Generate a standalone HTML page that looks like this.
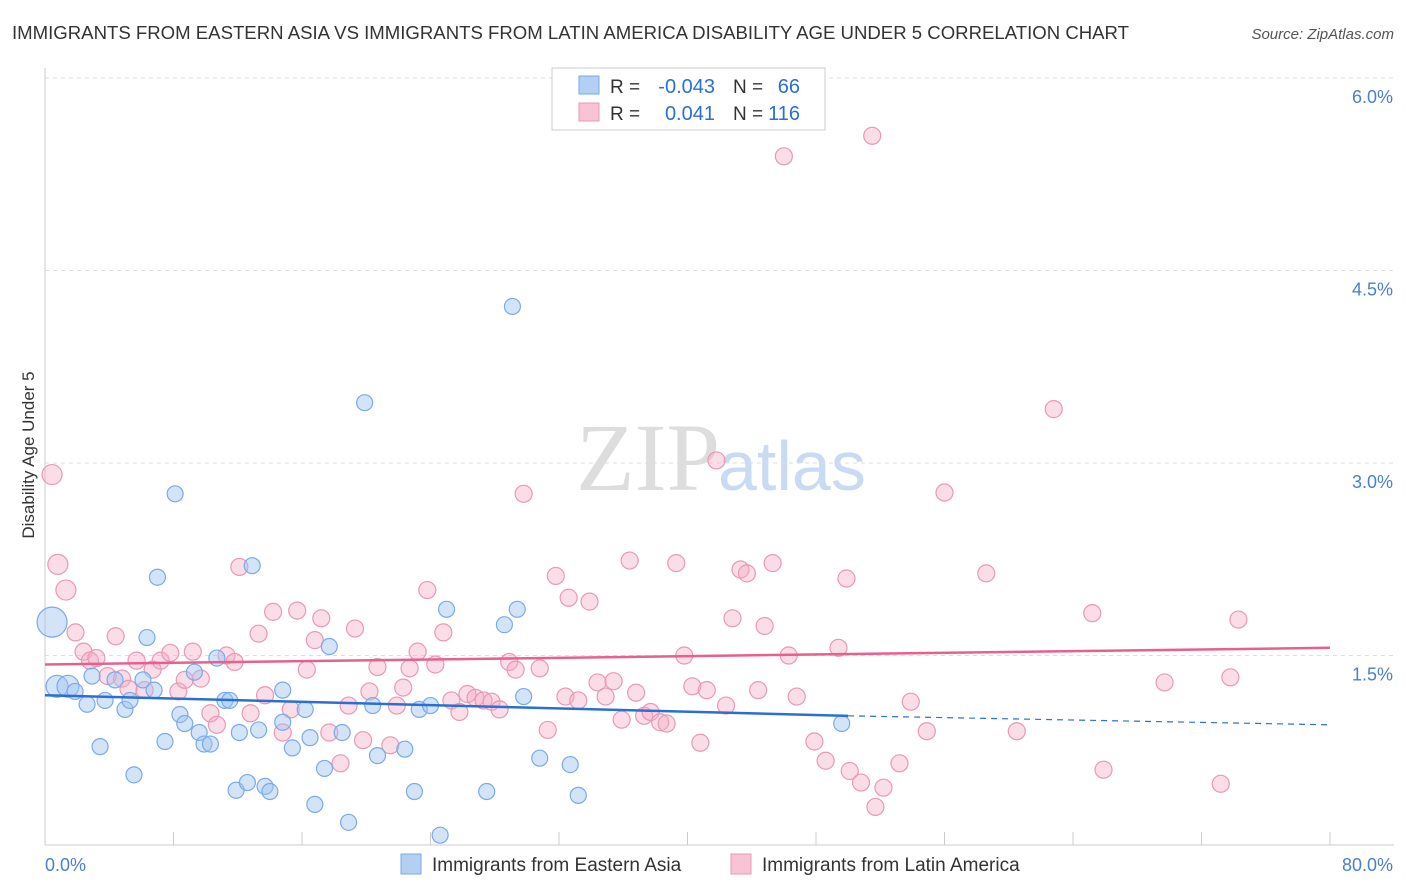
<!DOCTYPE html>
<html><head><meta charset="utf-8"><style>
body{margin:0;background:#fff;font-family:"Liberation Sans",sans-serif;}
svg{display:block}
</style></head><body>
<svg id="chart" width="1406" height="892">
<text x="12" y="39" font-size="18" fill="#333" textLength="1117" lengthAdjust="spacingAndGlyphs">IMMIGRANTS FROM EASTERN ASIA VS IMMIGRANTS FROM LATIN AMERICA DISABILITY AGE UNDER 5 CORRELATION CHART</text>
<text x="1394" y="39" font-size="15" fill="#555" font-style="italic" text-anchor="end">Source: ZipAtlas.com</text>
<text x="720" y="490" font-size="96" fill="#ddd" text-anchor="end" font-family="Liberation Serif,serif">ZIP</text>
<text x="718" y="490" font-size="70" fill="#c9dbf2">atlas</text>
<text transform="translate(34,455) rotate(-90)" font-size="17" fill="#333" text-anchor="middle">Disability Age Under 5</text>
<g id="grid"></g><g id="pts"></g><g id="lines"></g>
<g>
<rect x="552" y="68" width="273" height="62" fill="#fff" stroke="#ccc"/>
<rect x="579" y="76" width="20" height="18" fill="#b3cff3" stroke="#7aaae8"/>
<rect x="579" y="103" width="20" height="18" fill="#f8c3d4" stroke="#e899b5"/>
<text x="610" y="93" font-size="19" fill="#333">R =</text>
<text x="715" y="93" font-size="20" fill="#2a6fd6" text-anchor="end">-0.043</text>
<text x="733" y="93" font-size="19" fill="#333">N =</text>
<text x="800" y="93" font-size="20" fill="#2a6fd6" text-anchor="end">66</text>
<text x="610" y="120" font-size="19" fill="#333">R =</text>
<text x="715" y="120" font-size="20" fill="#2a6fd6" text-anchor="end">0.041</text>
<text x="733" y="120" font-size="19" fill="#333">N =</text>
<text x="800" y="120" font-size="20" fill="#2a6fd6" text-anchor="end">116</text>
</g>
<g>
<rect x="401" y="854" width="20" height="20" fill="#b3cff3" stroke="#7aaae8"/>
<text x="432" y="871" font-size="19" fill="#333">Immigrants from Eastern Asia</text>
<rect x="731" y="854" width="20" height="20" fill="#f8c3d4" stroke="#e899b5"/>
<text x="762" y="871" font-size="19" fill="#333">Immigrants from Latin America</text>
</g>
<text x="45" y="871" font-size="18" fill="#4a7fd0">0.0%</text>
<text x="1393" y="871" font-size="18" fill="#4a7fd0" text-anchor="end">80.0%</text>
</svg>
<script>
const yTicks=[1.5,3.0,4.5,6.0];
const blueX=[0.44,0.75,1.43,1.87,2.62,2.93,3.43,3.74,4.36,4.98,5.29,5.54,6.1,6.35,6.79,7.0,7.47,8.1,8.4,8.7,9.3,9.6,9.9,10.3,10.7,11.2,11.5,11.9,12.1,12.6,12.9,13.3,13.7,14.0,14.8,14.8,15.4,16.2,16.5,16.8,17.4,17.7,18.5,18.9,19.9,20.4,20.7,22.4,23.0,23.3,24.0,24.6,25.0,27.5,28.6,29.1,29.4,29.8,30.8,32.7,33.2,49.6];
const blueY=[1.76,1.26,1.26,1.22,1.12,1.34,0.79,1.15,1.31,1.08,1.15,0.57,1.31,1.64,1.23,2.11,0.83,2.76,1.04,0.97,1.37,0.9,0.81,0.81,1.48,1.15,1.15,0.45,0.9,0.51,2.2,0.92,0.48,0.44,1.23,0.98,0.78,1.08,0.86,0.34,0.62,1.57,0.9,0.2,3.47,1.11,0.72,0.77,0.44,1.08,1.11,0.1,1.86,0.44,1.74,4.22,1.86,1.18,0.7,0.65,0.41,0.97];
const pinkX=[0.44,0.8,1.3,1.9,2.4,2.8,3.2,3.9,4.4,4.8,5.2,5.7,6.2,6.7,7.2,7.8,8.3,8.7,9.2,9.7,10.3,10.7,11.3,11.8,12.1,12.8,13.3,13.7,14.2,14.8,15.3,15.7,16.3,16.8,17.2,17.7,18.4,18.9,19.3,19.8,20.2,20.7,21.5,21.9,22.3,22.7,23.2,23.8,24.3,24.8,25.3,25.8,26.3,26.8,27.3,27.8,28.3,28.9,29.3,29.8,30.8,31.3,31.8,32.4,32.6,33.2,33.9,34.4,34.9,35.4,35.9,36.4,36.8,37.3,37.7,38.3,38.7,39.3,39.8,40.3,40.8,41.2,41.8,42.4,42.8,43.3,43.7,44.4,44.8,45.3,46.0,46.3,46.8,47.9,48.6,49.4,49.9,50.1,50.8,51.5,51.7,52.2,53.2,53.9,54.9,56.0,58.6,60.5,62.8,65.2,65.9,69.7,73.2,73.8,74.3];
const pinkY=[2.91,2.21,2.01,1.68,1.53,1.46,1.48,1.34,1.65,1.32,1.24,1.46,1.23,1.39,1.46,1.52,1.22,1.31,1.53,1.32,1.05,0.96,1.5,1.45,2.19,1.05,1.67,1.19,1.84,0.9,1.08,1.85,1.39,1.62,1.79,0.9,0.66,1.11,1.71,0.84,1.22,1.41,0.8,1.11,1.25,1.4,1.53,2.01,1.43,1.68,1.15,1.06,1.2,1.17,1.15,1.14,1.08,1.45,1.39,2.76,1.4,0.92,2.12,1.18,1.95,1.15,1.92,1.29,1.18,1.3,1.0,2.24,1.21,1.03,1.06,0.98,0.97,2.22,1.5,1.26,0.82,1.23,3.02,1.11,1.79,2.17,2.14,1.23,1.73,2.22,5.39,1.5,1.18,0.83,0.68,1.56,2.1,0.6,0.51,5.55,0.32,0.47,0.66,1.14,0.91,2.77,2.14,0.91,3.42,1.83,0.61,1.29,0.5,1.33,1.78];
const blueTrend=[1.19,1.03,0.96];
const pinkTrend=[1.43,1.56];
const sx=v=>45+v/80*1285, sy=v=>848-v*128.33;
const NS='http://www.w3.org/2000/svg';
function mk(tag,attrs,parent){const e=document.createElementNS(NS,tag);for(const k in attrs)e.setAttribute(k,attrs[k]);parent.appendChild(e);return e;}
const grid=document.getElementById('grid');
const ax=mk('line',{x1:45,y1:68,x2:45,y2:845,stroke:'#ccc'},grid);


const bx=mk('line',{x1:45,y1:845,x2:1394,y2:845,stroke:'#ccc'},grid);


for(let i=0;i<=10;i++){const t=mk('line',{x1:sx(i*8),x2:sx(i*8),y1:832,y2:845,stroke:'#ccc'},grid);

}
yTicks.forEach(v=>{const g=mk('line',{x1:45,x2:1394,y1:sy(v),y2:sy(v),stroke:'#ddd','stroke-dasharray':'4,4'},grid);


const t=mk('text',{x:1393,y:sy(v)+25,'font-size':18,fill:'#4a7fd0','text-anchor':'end'},grid);t.textContent=v.toFixed(1)+'%';

});
const pts=document.getElementById('pts');
pinkX.forEach((x,i)=>{const c=mk('circle',{cx:sx(x),cy:sy(pinkY[i]),r:i<3?10:8.5,fill:'rgba(244,170,196,0.4)',stroke:'#e899b5','stroke-width':1.2},pts);

});
blueX.forEach((x,i)=>{const c=mk('circle',{cx:sx(x),cy:sy(blueY[i]),r:i==0?15:(i<3?11:8),fill:'rgba(160,196,240,0.45)',stroke:'#7aaae8','stroke-width':1.2},pts);

});
const L=document.getElementById('lines');
const b1=mk('line',{x1:sx(0),y1:sy(blueTrend[0]),x2:sx(50),y2:sy(blueTrend[1]),stroke:'#2a6fd6','stroke-width':2.5},L);


const b2=mk('line',{x1:sx(50),y1:sy(blueTrend[1]),x2:sx(80),y2:sy(blueTrend[2]),stroke:'#2a6fd6','stroke-width':1.2,'stroke-dasharray':'6,5'},L);


const p1=mk('line',{x1:sx(0),y1:sy(pinkTrend[0]),x2:sx(80),y2:sy(pinkTrend[1]),stroke:'#e8608e','stroke-width':2.5},L);


</script>
</body></html>
